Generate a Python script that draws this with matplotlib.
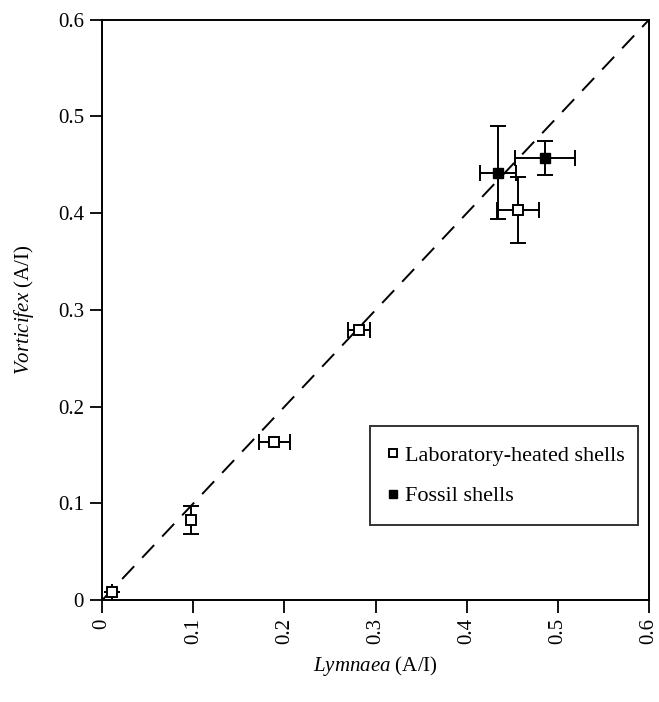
import numpy as np
import matplotlib.pyplot as plt

plt.rcParams['font.family'] = 'Liberation Serif'
plt.rcParams['mathtext.fontset'] = 'custom'
plt.rcParams['mathtext.it'] = 'Liberation Serif:italic'
plt.rcParams['mathtext.rm'] = 'Liberation Serif'

# --- DATA ---
lab_x = [0.011, 0.097, 0.189, 0.282, 0.456]
lab_y = [0.009, 0.083, 0.163, 0.279, 0.403]
lab_xerr = [0.0, 0.0, 0.017, 0.012, 0.023]
lab_yerr = [0.0, 0.0145, 0.0, 0.0, 0.034]

fossil_x = [0.434, 0.486]
fossil_y = [0.442, 0.457]
fossil_xerr = [0.020, 0.033]
fossil_yerr = [0.048, 0.018]

ticks = [0, 0.1, 0.2, 0.3, 0.4, 0.5, 0.6]
tick_labels = ['0', '0.1', '0.2', '0.3', '0.4', '0.5', '0.6']

fig = plt.figure(figsize=(6.59, 7.02), dpi=100)
ax = fig.add_axes([0.155, 0.145, 0.83, 0.827])

# 1:1 line
ax.plot([0, 0.6], [0, 0.6], color='black', linestyle=(0, (9, 6)), linewidth=1.4, zorder=1)

# error bars (only where visible)
ax.errorbar(lab_x, lab_y, xerr=lab_xerr, yerr=lab_yerr, fmt='none',
            ecolor='black', elinewidth=1.4, capsize=6, capthick=1.4, zorder=2)
ax.errorbar(fossil_x, fossil_y, xerr=fossil_xerr, yerr=fossil_yerr, fmt='none',
            ecolor='black', elinewidth=1.4, capsize=6, capthick=1.4, zorder=2)

ax.plot(lab_x, lab_y, 's', markersize=7, markerfacecolor='white',
        markeredgecolor='black', markeredgewidth=1.4, linestyle='none',
        label='Laboratory-heated shells', zorder=3)
ax.plot(fossil_x, fossil_y, 's', markersize=7, markerfacecolor='black',
        markeredgecolor='black', linestyle='none', label='Fossil shells', zorder=3)

ax.set_xlim(0, 0.6)
ax.set_ylim(0, 0.6)
ax.set_xticks(ticks)
ax.set_xticklabels(tick_labels, rotation=90, fontsize=15)
ax.set_yticks(ticks)
ax.set_yticklabels(tick_labels, fontsize=15)
ax.tick_params(direction='out', length=9, width=1.3, pad=4)
for s in ax.spines.values():
    s.set_linewidth(1.4)

ax.set_xlabel(r'$\it{Lymnaea}$ (A/I)', fontsize=15, labelpad=7)
ax.set_ylabel(r'$\it{Vorticifex}$ (A/I)', fontsize=15, labelpad=16)

leg = ax.legend(loc='lower left', bbox_to_anchor=(0.49, 0.129, 0.49, 0.172),
                mode='expand', fontsize=16, frameon=True, fancybox=False,
                edgecolor='black', handlelength=0.4, handletextpad=0.3,
                labelspacing=0.9, borderpad=0.85, borderaxespad=0, markerscale=0.8)
leg.get_frame().set_linewidth(1.4)

fig.savefig('out.png', dpi=100)
